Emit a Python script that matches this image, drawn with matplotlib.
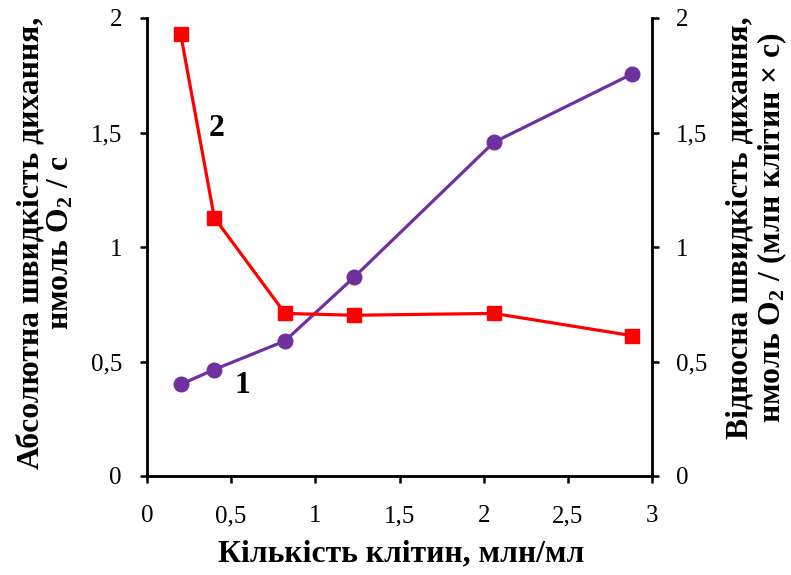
import matplotlib
matplotlib.use("Agg")
import matplotlib.pyplot as plt
from matplotlib.ticker import FuncFormatter

# Cell concentration, mln/ml
cells = [0.2, 0.4, 0.82, 1.23, 2.06, 2.88]
# Curve 1: absolute respiration rate, nmol O2 / s
absolute_rate = [0.40, 0.465, 0.59, 0.868, 1.457, 1.755]
# Curve 2: relative respiration rate, nmol O2 / (mln cells x s)
relative_rate = [1.93, 1.128, 0.71, 0.702, 0.71, 0.613]

x_ticks = [0, 0.5, 1, 1.5, 2, 2.5, 3]
y_ticks = [0, 0.5, 1, 1.5, 2]

plt.rcParams["font.family"] = ["Liberation Serif", "DejaVu Serif"]
plt.rcParams["mathtext.fontset"] = "custom"
plt.rcParams["mathtext.rm"] = "Liberation Serif"
plt.rcParams["mathtext.bf"] = "Liberation Serif:bold"
plt.rcParams["mathtext.default"] = "bf"

PURPLE = "#7030A0"
RED = "#FF0000"
TICK_SIZE = 18
LABEL_SIZE = 22.8


def comma(v, pos):
    return f"{v:g}".replace(".", ",")


W, H = 791, 575
fig = plt.figure(figsize=(W / 100, H / 100), dpi=100)
ax = fig.add_axes([147 / W, 1 - 476 / H, (652 - 147) / W, (476 - 18) / H])
ax2 = ax.twinx()

ax.plot(cells, absolute_rate, color=PURPLE, lw=2.3, marker="o", ms=10.5, zorder=3)
ax2.plot(cells, relative_rate, color=RED, lw=2.3, marker="s", ms=9.5, zorder=3)

for a in (ax, ax2):
    a.set_xlim(0, 3)
    a.set_ylim(0, 2)
    a.set_yticks(y_ticks)
    a.spines["top"].set_visible(False)
    a.yaxis.set_major_formatter(FuncFormatter(comma))
    for sp in a.spines.values():
        sp.set_linewidth(1.8)
        sp.set_color("black")
    a.tick_params(width=1.8, length=5, labelsize=TICK_SIZE, colors="black")

ax.set_xticks(x_ticks)
ax.xaxis.set_major_formatter(FuncFormatter(comma))
ax.tick_params(axis="x", pad=16)
ax.tick_params(axis="y", pad=13)
ax2.tick_params(axis="y", pad=12)

fig.text(401 / W, 1 - 554 / H, "Кількість клітин, млн/мл", fontsize=LABEL_SIZE,
         fontweight="bold", ha="center", va="center")
fig.text(46 / W, 1 - 243 / H, "Абсолютна швидкість дихання,\nнмоль $O_2$ / с",
         fontsize=LABEL_SIZE, fontweight="bold", rotation=90, ha="center", va="center",
         multialignment="center", linespacing=1.05)
fig.text(757 / W, 1 - 228 / H, "Відносна швидкість дихання,\nнмоль $O_2$ / (млн клітин × с)",
         fontsize=LABEL_SIZE, fontweight="bold", rotation=90, ha="center", va="center",
         multialignment="center", linespacing=1.05)

ax.text(0.414, 1.518, "2", fontsize=LABEL_SIZE, fontweight="bold", ha="center", va="center")
ax.text(0.566, 0.397, "1", fontsize=LABEL_SIZE, fontweight="bold", ha="center", va="center")

fig.savefig("out.png", dpi=100)
